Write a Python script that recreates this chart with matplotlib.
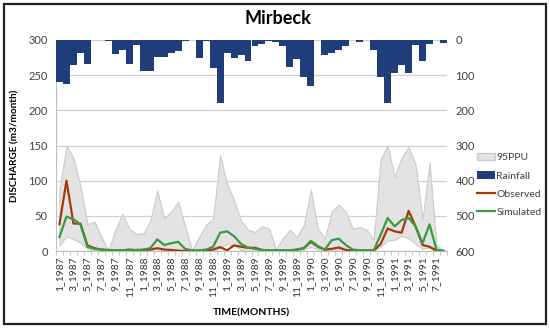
import matplotlib
matplotlib.use("Agg")
import matplotlib.pyplot as plt
import numpy as np
from matplotlib.patches import Rectangle
from matplotlib.lines import Line2D
from matplotlib.patches import Patch

years = [1987, 1988, 1989, 1990, 1991]
months = [f"{m}_{y}" for y in years for m in range(1, 13)][:56]

rainfall = [120, 125, 72, 38, 68, 0, 0, 3, 40, 28, 68, 14, 87, 87, 47, 47,
            36, 32, 2, 0, 51, 3, 81, 180, 38, 52, 42, 59, 16, 11, 3, 5,
            18, 78, 55, 104, 130, 0, 43, 36, 28, 17, 0, 5, 0, 28, 106, 180,
            93, 71, 95, 14, 59, 11, 0, 8]

ppu_upper = [85, 150, 132, 93, 38, 42, 20, 1, 30, 53, 32, 24, 25, 42, 86, 46,
             56, 70, 35, 1, 20, 37, 46, 136, 96, 72, 43, 30, 27, 35, 32, 3,
             18, 30, 20, 37, 87, 32, 18, 56, 66, 56, 32, 34, 30, 16, 131, 150,
             105, 133, 148, 123, 45, 126, 8, 0]

ppu_lower = [8, 21, 17, 12, 3, 0, 0, 0, 0, 0, 0, 0, 0, 0, 0, 0,
             0, 0, 0, 0, 0, 0, 0, 5, 10, 8, 2, 0, 0, 0, 0, 0,
             0, 0, 0, 2, 6, 2, 0, 0, 3, 1, 0, 0, 0, 0, 6, 15,
             16, 22, 18, 10, 3, 5, 0, 0]

observed = [38, 100, 39, 39, 8, 4, 2, 1.5, 0.5, 1, 2, 1, 1.5, 2, 4, 2,
            1.5, 0.5, 0, 0, 0, 1, 2, 5.5, 1, 8, 6, 4.5, 4.5, 1.5, 0.5, 0.5,
            0.5, 0.5, 2, 4, 13, 6, 2, 3, 5, 1.5, 0.5, 0.5, 0.5, 0.5, 10, 32,
            28, 26, 57, 35, 8.5, 6, 0.5, 0]

simulated = [20, 49, 45, 38, 6, 3, 2, 1, 1, 1, 1.5, 1.5, 2, 4, 16.5, 8.5,
             11, 13, 3, 1, 1, 2, 6, 26, 28, 21, 10, 5, 3, 1.5, 1, 1,
             1, 1, 2, 4, 14.5, 7, 2, 15.5, 17.5, 8.5, 2, 1, 1, 1, 23, 47,
             35, 44, 47, 35, 11, 38, 1.5, 0.5]

FONT = "Lato"
plt.rcParams["font.family"] = [FONT, "DejaVu Sans"]

fig = plt.figure(figsize=(5.5, 3.29), dpi=100)
ax = fig.add_axes([56/550, 1-251/329, (447-56)/550, (251-40)/329])
x = np.arange(len(months))

ax.fill_between(x, ppu_lower, ppu_upper, facecolor="#e3e3e3",
                edgecolor="#cbcbcb", linewidth=0.8, zorder=2)
ax.plot(x, observed, color="#a33a0c", lw=1.6, zorder=4)
ax.plot(x, simulated, color="#3a9a44", lw=1.6, zorder=5)

ax.set_xlim(-0.5, len(months) - 0.5)
ax.set_ylim(0, 300)
ax.set_yticks(np.arange(0, 301, 50))
ax.yaxis.grid(True, color="#d0d0d0", lw=0.9, zorder=0)
ax.set_axisbelow(True)
ax.tick_params(axis="y", length=0, labelsize=8, labelcolor="#404040", pad=6)
ax.set_xticks(x[::2])
ax.set_xticklabels(months[::2], rotation=90, fontsize=7.4, color="#333333")
ax.set_xticks(np.arange(-0.5, len(months), 1), minor=True)
ax.tick_params(axis="x", which="major", length=0, pad=4)
ax.tick_params(axis="x", which="minor", length=3, color="#bdbdbd")
for s in ["top", "right"]:
    ax.spines[s].set_visible(False)
ax.spines["left"].set_color("#c0c0c0")
ax.spines["bottom"].set_color("#bdbdbd")
ax.set_ylabel("DISCHARGE (m3/month)", fontsize=7.2, fontweight="bold", labelpad=6)
ax.set_xlabel("TIME(MONTHS)", fontsize=7.5, fontweight="bold", labelpad=8)

ax2 = ax.twinx()
ax2.bar(x, rainfall, width=1.0, color="#1f3d7a", zorder=3)
ax2.set_ylim(600, 0)
ax2.set_yticks(np.arange(0, 601, 100))
ax2.tick_params(axis="y", length=0, labelsize=8, labelcolor="#404040", pad=6)
for s in ["top", "right", "left", "bottom"]:
    ax2.spines[s].set_visible(False)

fig.text(0.505, 0.945, "Mirbeck", ha="center", va="center", fontsize=13,
         fontweight="bold")

handles = [Patch(facecolor="#e3e3e3", edgecolor="#cbcbcb"),
           Patch(facecolor="#1f3d7a"),
           Line2D([], [], color="#a33a0c", lw=1.6),
           Line2D([], [], color="#3a9a44", lw=1.6)]
leg = fig.legend(handles, ["95PPU", "Rainfall", "Observed", "Simulated"],
                 loc="upper left", bbox_to_anchor=(473/550, 1-149/329),
                 frameon=False, fontsize=7.5, handlelength=1.7,
                 handletextpad=0.15, labelspacing=0.85, borderaxespad=0)
for t in leg.get_texts():
    t.set_color("#404040")

border = Rectangle((4/550, 5/329), 542/550, 320/329, transform=fig.transFigure,
                   fill=False, edgecolor="#222222", lw=1.6)
fig.patches.append(border)

fig.savefig("out.png", dpi=100)
